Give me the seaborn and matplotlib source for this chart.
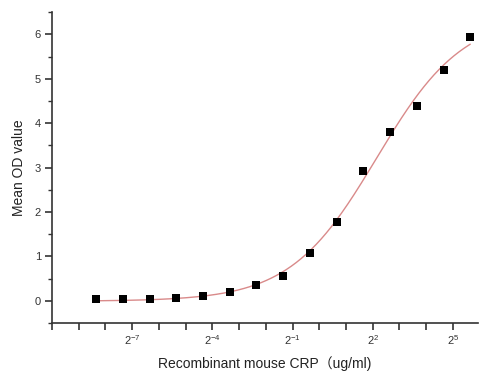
import numpy as np
import pandas as pd
import seaborn as sns
import matplotlib
matplotlib.use("Agg")
import matplotlib.pyplot as plt
from matplotlib.ticker import FixedLocator, MultipleLocator

# data (x as log2 of concentration in ug/ml)
log2_conc = [-8.35, -7.35, -6.35, -5.35, -4.35, -3.35, -2.35, -1.35,
             -0.35, 0.65, 1.65, 2.65, 3.65, 4.65, 5.65]
mean_od = [0.03, 0.045, 0.045, 0.06, 0.11, 0.20, 0.35, 0.56,
           1.07, 1.78, 2.92, 3.80, 4.39, 5.20, 5.94]
xtick_exps = [-7, -4, -1, 2, 5]
xtick_labels = [r"$2^{-7}$", r"$2^{-4}$", r"$2^{-1}$", r"$2^{2}$", r"$2^{5}$"]
ytick_vals = [0, 1, 2, 3, 4, 5, 6]

sns.set_theme(style="ticks")
plt.rcParams['font.family'] = ['Liberation Sans', 'Noto Sans CJK SC', 'DejaVu Sans']
plt.rcParams['mathtext.fontset'] = 'custom'
plt.rcParams['mathtext.rm'] = 'Liberation Sans'
plt.rcParams['mathtext.it'] = 'Liberation Sans'

df = pd.DataFrame({"x": log2_conc, "y": mean_od})

# 4-parameter logistic fit (grid search + linear least squares)
xa = np.array(log2_conc); ya = np.array(mean_od)
best = None
for c in np.linspace(-2, 6, 161):
    for b in np.linspace(0.2, 2.0, 181):
        f = 1.0 / (1.0 + np.exp(-b * np.log(2) * (xa - c)))
        M = np.column_stack([np.ones_like(f), f])
        coef, *_ = np.linalg.lstsq(M, ya, rcond=None)
        r = np.sum((M @ coef - ya) ** 2)
        if best is None or r < best[0]:
            best = (r, c, b, coef)
_, c, b, coef = best
xf = np.linspace(xa.min(), xa.max(), 300)
yf = coef[0] + coef[1] / (1.0 + np.exp(-b * np.log(2) * (xf - c)))
fit = pd.DataFrame({"x": xf, "y": yf})

fig = plt.figure(figsize=(5, 3.78), dpi=100)
ax = fig.add_axes([0.104, 0.1455, 0.852, 0.8225])

sns.lineplot(data=fit, x="x", y="y", ax=ax, color="#d98a8a", linewidth=1.0)
sns.scatterplot(data=df, x="x", y="y", ax=ax, marker="s", color="black",
                s=30, edgecolor="black", linewidth=0, zorder=3)

ax.set_xlim(-10, 5.94)
ax.set_ylim(-0.5, 6.5)
ax.xaxis.set_major_locator(FixedLocator(xtick_exps))
ax.set_xticklabels(xtick_labels)
ax.xaxis.set_minor_locator(MultipleLocator(1))
ax.yaxis.set_major_locator(FixedLocator(ytick_vals))
ax.yaxis.set_minor_locator(MultipleLocator(0.5))

for s in ["top", "right"]:
    ax.spines[s].set_visible(False)
for s in ["left", "bottom"]:
    ax.spines[s].set_color("#333333")
    ax.spines[s].set_linewidth(1.2)

ax.tick_params(axis="x", which="both", direction="out", length=5, width=1.2,
               color="#333333", labelsize=8, labelcolor="#333333", pad=2)
ax.tick_params(axis="y", which="major", direction="out", length=5, width=1.2,
               color="#333333", labelsize=8, labelcolor="#333333", pad=3)
ax.tick_params(axis="y", which="minor", direction="out", length=3, width=1.0,
               color="#333333")

ax.set_xlabel("Recombinant mouse CRP（ug/ml)", fontsize=10, color="#222222", labelpad=7)
ax.set_ylabel("Mean OD value", fontsize=10, color="#222222", labelpad=6)

fig.savefig("out.png", dpi=100)
